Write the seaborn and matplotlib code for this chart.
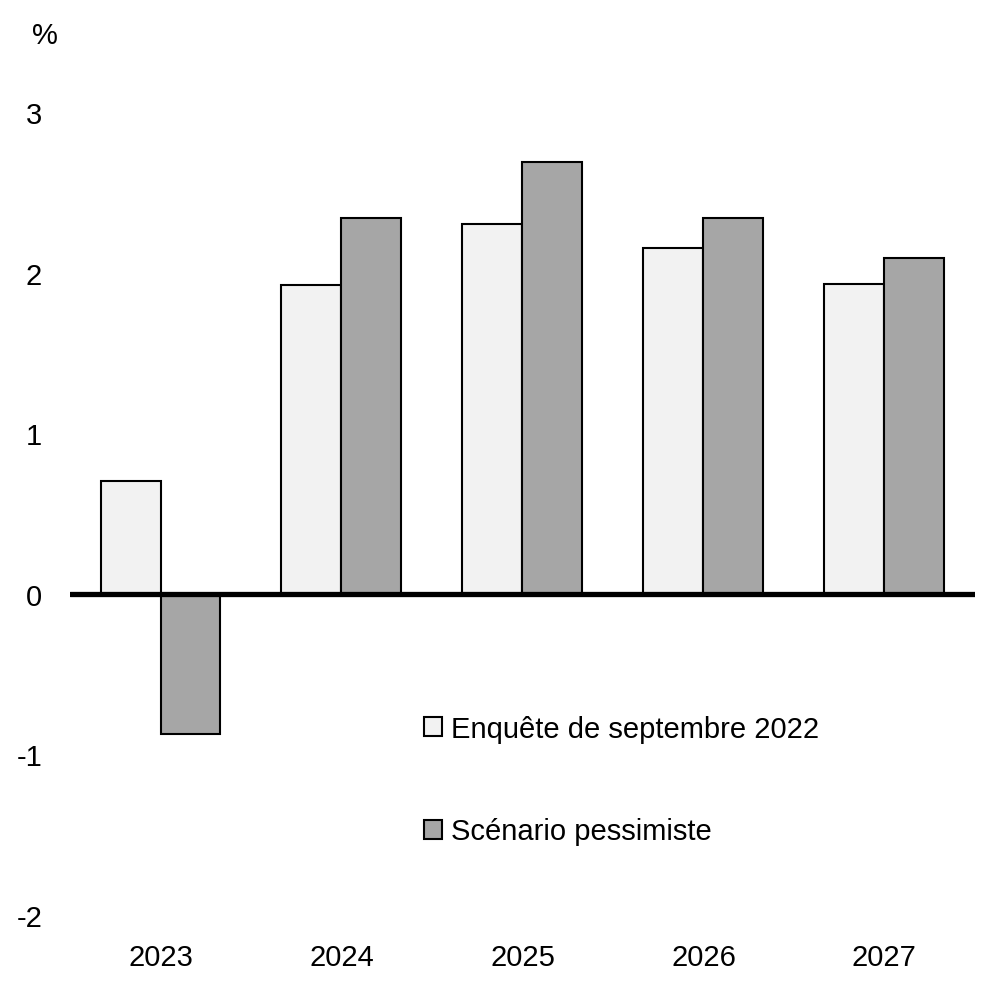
import matplotlib
matplotlib.use("Agg")
import matplotlib.pyplot as plt
import seaborn as sns
import pandas as pd
from matplotlib.patches import Patch

years = ["2023", "2024", "2025", "2026", "2027"]
series_names = ["Enquête de septembre 2022", "Scénario pessimiste"]
enquete = [0.70, 1.92, 2.30, 2.15, 1.93]
pessimiste = [-0.87, 2.34, 2.69, 2.34, 2.09]
yticks = [-2, -1, 0, 1, 2, 3]
colors = ["#F2F2F2", "#A6A6A6"]

df = pd.DataFrame({
    "year": years * 2,
    "value": enquete + pessimiste,
    "series": [series_names[0]] * len(years) + [series_names[1]] * len(years),
})

sns.set_theme(style="white")
plt.rcParams["font.family"] = ["Liberation Sans", "DejaVu Sans"]
plt.rcParams["text.color"] = "black"

FS = 21

fig = plt.figure(figsize=(10.03, 10.04), dpi=100)
ax = fig.add_axes([0.0698, 0.0876, 0.9022, 0.7999])

sns.barplot(data=df, x="year", y="value", hue="series", order=years,
            hue_order=series_names, palette=colors, width=0.663,
            edgecolor="black", linewidth=1.5, ax=ax, legend=False,
            saturation=1)

ax.set_xlim(-0.5, 4.5)
ax.set_ylim(-2, 3)
ax.set_yticks(yticks)
ax.set_yticklabels([str(t) for t in yticks])
ax.axhline(0, color="black", linewidth=3.8, zorder=5)

for s in ax.spines.values():
    s.set_visible(False)
ax.set_xlabel("")
ax.set_ylabel("")
ax.tick_params(axis="both", length=0, labelsize=FS, colors="black")
ax.tick_params(axis="y", pad=20)
ax.tick_params(axis="x", pad=20)
ax.grid(False)

fig.text(45 / 1003, 1 - 36 / 1004, "%", fontsize=FS, ha="center", va="center",
         color="black")

handles = [Patch(facecolor=c, edgecolor="black", linewidth=1.5) for c in colors]
leg = ax.legend(handles, series_names, loc="upper left",
                bbox_to_anchor=(424 / 1003, 1 - 716 / 1004),
                bbox_transform=fig.transFigure, frameon=False,
                fontsize=FS, handlelength=0.62, handleheight=0.62,
                handletextpad=0.3, labelspacing=2.55, borderaxespad=0,
                borderpad=0, labelcolor="black")

fig.savefig("out.png", dpi=100, facecolor="white")
